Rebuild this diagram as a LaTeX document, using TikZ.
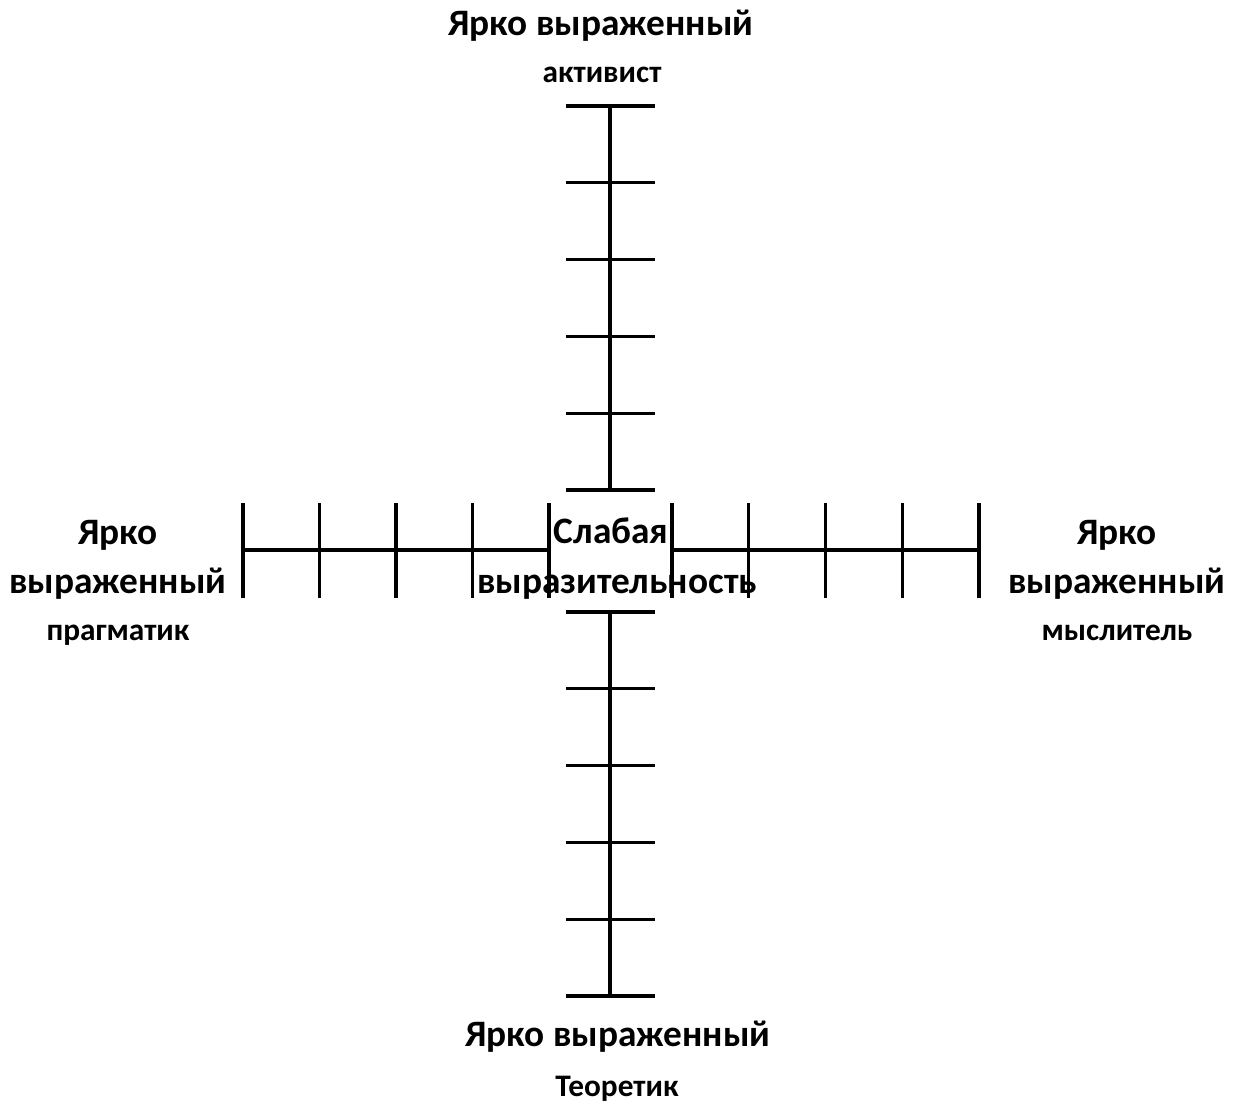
\documentclass[tikz,border=0pt]{standalone}
\usepackage{fontspec}
\setmainfont{Carlito}
\begin{document}
\begin{tikzpicture}[x=0.75pt,y=-0.75pt,
  axis/.style={line width=2.3pt},
  big/.style={font=\bfseries\fontsize{28}{32}\selectfont, inner sep=0pt, anchor=base},
  small/.style={font=\bfseries\fontsize{23.5}{28}\selectfont, inner sep=0pt, anchor=base}]
\useasboundingbox (0,0) rectangle (1236,1104);
% vertical axis
\coordinate (vt) at (610,106);
\coordinate (vtb) at (610,490);
\coordinate (vb) at (610,996);
\coordinate (vbt) at (610,612);
\draw[axis] (vt) -- (vtb);
\draw[axis] (vbt) -- (vb);
\foreach \y in {106,182.8,259.6,336.4,413.2,490,612,688.8,765.6,842.4,919.2,996}
  \draw[axis] (566,\y) -- (655,\y);
% horizontal axis
\coordinate (hl) at (243,550);
\coordinate (hlr) at (549,550);
\coordinate (hrl) at (672,550);
\coordinate (hr) at (979,550);
\draw[axis] (hl) -- (hlr);
\draw[axis] (hrl) -- (hr);
\foreach \x in {243,319.5,396,472.5,549,672,748.75,825.5,902.25,979}
  \draw[axis] (\x,503) -- (\x,598);
% labels
\node[big] (t1) at (601,35) {Ярко выраженный};
\node[small] (t2) at (602,82) {активист};
\node[big] (b1) at (618,1046) {Ярко выраженный};
\node[small] (b2) at (617,1096) {Теоретик};
\node[big] (l1) at (118,544) {Ярко};
\node[big] (l2) at (118,593) {выраженный};
\node[small] (l3) at (118,640) {прагматик};
\node[big] (r1) at (1117,544) {Ярко};
\node[big] (r2) at (1117,593) {выраженный};
\node[small] (r3) at (1117,640) {мыслитель};
\node[big] (c1) at (611,543) {Слабая};
\node[big] (c2) at (617,593) {выразительность};
\end{tikzpicture}
\end{document}
